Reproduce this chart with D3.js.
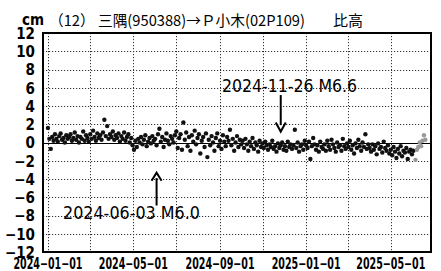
<!DOCTYPE html>
<html>
<head>
<meta charset="utf-8">
<script src="https://cdn.jsdelivr.net/npm/d3@7"></script>
<style>
body { margin: 0; background: #fff; }
svg { display: block; }
</style>
</head>
<body>
<svg width="441" height="271"></svg>
<script>
// 比高データ (cm) — 2日おきに読み取った値
var stepDays = 2;
var start2024 = "2024-01-01";
var values2024 = [
  // 1月
  1.6, 0.4, -0.7, 0.6, 0.2, 0.9, 0.4, 0.1, 0.7, 1.0, 0.3, 0.5, 0.0, 0.8, 0.4, 0.6,
  // 2月
  0.9, 0.2, 0.5, 1.1, 0.3, 0.7, 0.0, 0.6, 0.4, 1.2, 0.2, 0.8, 0.5, 0.1,
  // 3月
  0.9, 0.4, 1.3, 0.6, 0.2, 1.0, 0.5, 0.8, 0.3, 1.1, 2.5, 0.7, 1.8, 0.4, 0.9, 0.6,
  // 4月
  1.2, 0.3, 0.8, 0.5, 1.0, 0.1, 0.7, 0.4, 1.1, 0.2, 0.6, 0.9, 0.0, 0.5, -0.3,
  // 5月
  -0.8, 0.2, -0.5, 0.4, 0.0, 0.6, -0.2, 0.3, 0.8, -0.4, 0.1, 0.5, -0.1, 0.7, 0.2,
  // 6月
  0.4, -0.3, 0.9, 1.5, 0.1, 0.6, -0.5, 0.3, 1.0, 0.2, -0.2, 0.7, 0.4, 0.0, 0.8,
  // 7月
  1.2, -0.6, 0.5, 0.9, -0.8, 2.2, 0.3, 1.1, -0.4, 0.6, -0.9, 0.8, 0.1, 1.3, -0.2, 0.5,
  // 8月
  0.9, -1.2, 0.2, 0.6, -0.5, 1.0, -1.6, 0.3, -0.3, 0.7, 0.0, -0.9, 0.5, 1.0, -0.4, 0.2,
  // 9月
  -0.7, 0.8, 0.1, -0.4, 0.6, 0.2, 1.4, -0.3, 0.4, -0.9, 0.0, 0.7, -0.5, 0.3, -0.2,
  // 10月
  0.2, -0.6, 0.4, -0.2, -0.9, 0.1, -0.4, 0.5, -0.7, 0.0, -0.3, -1.0, 0.2, -0.5, -0.1,
  // 11月
  -0.6, 0.1, -0.3, -0.8, -0.2, -0.5, 0.2, -0.7, -0.4, -1.0, -0.1, -0.6, -0.3, 0.0, -0.8,
  // 12月
  -0.4, -0.9, 0.1, -0.5, -0.2, -0.7, -0.3, 1.4, -0.6, 0.0, -1.0, -0.4, -0.2, -0.8, 0.2
];
var start2025 = "2025-01-01";
var values2025 = [
  // 1月
  -0.3, -0.6, 0.1, -1.8, -0.4, 0.5, -0.2, -0.8, -0.3, -1.0, 0.1, -0.5, -0.7, -0.2, -0.9, 0.2,
  // 2月
  -0.4, -0.8, 0.3, -0.2, -0.6, -1.0, 0.0, -0.5, -0.3, -0.9, 0.4, -0.4, -0.7, -0.1,
  // 3月
  -0.5, 0.2, -0.8, -0.3, -1.2, -0.1, -0.6, 0.3, -0.4, -0.9, 0.0, -0.5, 0.9, -0.7, -0.2,
  // 4月
  -0.6, -1.0, -0.2, -0.8, -0.4, -1.3, -0.1, -0.7, -0.5, -1.1, 0.1, -0.6, -0.9, -0.3, -1.2,
  // 5月
  -0.8, -1.4, -0.5, -1.0, -1.7, -0.7, -1.2, -0.4, -1.5, -0.9, -1.1, -0.6, -1.8, -1.0, -0.8, -1.3,
  // 6月
  -0.9
];
// 速報値 (灰色)
var grayDates = ["2025-06-05", "2025-06-07", "2025-06-09", "2025-06-11", "2025-06-13", "2025-06-15", "2025-06-17", "2025-06-19"];
var grayValues = [-1.9, -0.8, -0.5, 0.0, -0.4, 0.2, 0.8, 0.3];

var yTicks = [12, 10, 8, 6, 4, 2, 0, -2, -4, -6, -8, -10, -12];
var xTickLabels = ["2024-01-01", "2024-05-01", "2024-09-01", "2025-01-01", "2025-05-01"];
var gridDates = ["2024-01-01", "2024-03-01", "2024-05-01", "2024-07-01", "2024-09-01", "2024-11-01",
                 "2025-01-01", "2025-03-01", "2025-05-01"];
var quakeDates = ["2024-06-03", "2024-11-26"];
var quakeLabels = ["2024-06-03 M6.0", "2024-11-26 M6.6"];

var svg = d3.select("svg");
var parse = d3.timeParse("%Y-%m-%d");

var margin = {left: 43, right: 10, top: 33, bottom: 19};
var W = 441, H = 271;

var x = d3.scaleTime()
    .domain([parse("2023-12-25"), parse("2025-06-27")])
    .range([margin.left, W - margin.right]);
var y = d3.scaleLinear()
    .domain([-12, 12])
    .range([H - margin.bottom, margin.top]);

function toPoints(startStr, vals) {
  var s = parse(startStr);
  return vals.map(function(v, i) { return {date: d3.timeDay.offset(s, i * stepDays), value: v}; });
}
var points = toPoints(start2024, values2024).concat(toPoints(start2025, values2025));
var grayPoints = grayDates.map(function(d, i) { return {date: parse(d), value: grayValues[i]}; });

var axisFont = "'Liberation Sans Narrow', 'Arial Narrow', 'DejaVu Sans Condensed', sans-serif";

// グリッド (点線)
var grid = svg.append("g").attr("stroke", "#333").attr("stroke-width", 1).attr("stroke-dasharray", "1.2,1.8");
grid.selectAll("line.h")
    .data(yTicks.filter(function(d) { return d !== 0 && d !== 12 && d !== -12; }))
    .enter().append("line")
    .attr("x1", margin.left).attr("x2", W - margin.right)
    .attr("y1", function(d) { return Math.round(y(d)) + 0.5; })
    .attr("y2", function(d) { return Math.round(y(d)) + 0.5; });
grid.selectAll("line.v")
    .data(gridDates.map(parse))
    .enter().append("line")
    .attr("y1", margin.top).attr("y2", H - margin.bottom)
    .attr("x1", function(d) { return Math.round(x(d)) + 0.5; })
    .attr("x2", function(d) { return Math.round(x(d)) + 0.5; });

// 0 の線
svg.append("line")
    .attr("x1", margin.left).attr("x2", W - margin.right)
    .attr("y1", Math.round(y(0)) + 0.5).attr("y2", Math.round(y(0)) + 0.5)
    .attr("stroke", "#000").attr("stroke-width", 1.2);

// データ点
svg.append("g").selectAll("circle")
    .data(points)
    .enter().append("circle")
    .attr("cx", function(d) { return x(d.date); })
    .attr("cy", function(d) { return y(d.value); })
    .attr("r", 2.2)
    .attr("fill", "#111");
svg.append("g").selectAll("circle")
    .data(grayPoints)
    .enter().append("circle")
    .attr("cx", function(d) { return x(d.date); })
    .attr("cy", function(d) { return y(d.value); })
    .attr("r", 2.2)
    .attr("fill", "#999");

// 枠
svg.append("rect")
    .attr("x", margin.left).attr("y", margin.top)
    .attr("width", W - margin.right - margin.left)
    .attr("height", H - margin.bottom - margin.top)
    .attr("fill", "none").attr("stroke", "#000").attr("stroke-width", 2);

// y軸
var yAxis = svg.append("g")
    .attr("transform", "translate(" + margin.left + ",0)")
    .call(d3.axisLeft(y).tickValues(yTicks).tickSize(0).tickPadding(8));
yAxis.select(".domain").remove();
yAxis.selectAll("text")
    .attr("font-family", axisFont).attr("font-size", 15).attr("font-weight", "bold")
    .attr("fill", "#000").attr("dy", "0.36em");

// x軸ラベル
svg.append("g").selectAll("text")
    .data(xTickLabels)
    .enter().append("text")
    .attr("x", function(d) { return x(parse(d)); })
    .attr("y", 269)
    .attr("text-anchor", "middle")
    .attr("font-family", axisFont).attr("font-size", 15).attr("font-weight", "bold")
    .attr("textLength", 69).attr("lengthAdjust", "spacingAndGlyphs")
    .text(function(d) { return d.replace(/-/g, "\u2212"); });

// タイトル
svg.append("text")
    .attr("x", 22).attr("y", 25)
    .attr("font-family", axisFont).attr("font-size", 15).attr("font-weight", "bold")
    .text("cm");
svg.append("text")
    .attr("x", 49).attr("y", 26)
    .attr("font-family", "'Noto Sans CJK JP', sans-serif").attr("font-size", 15)
    .attr("textLength", 256).attr("lengthAdjust", "spacingAndGlyphs")
    .text("（12） 三隅(950388)→Ｐ小木(02P109)");
svg.append("text")
    .attr("x", 333).attr("y", 26)
    .attr("font-family", "'Noto Sans CJK JP', sans-serif").attr("font-size", 15)
    .text("比高");

// 地震の矢印
var annFont = "'DejaVu Sans Condensed', 'Liberation Sans Narrow', sans-serif";
var qJun = parse(quakeDates[0]), qNov = parse(quakeDates[1]);

// 2024-06-03 : 下から上向き
svg.append("line")
    .attr("x1", x(qJun)).attr("x2", x(qJun))
    .attr("y1", y(-6.9)).attr("y2", y(-3.9))
    .attr("stroke", "#000").attr("stroke-width", 2);
svg.append("path")
    .attr("d", d3.line()([[x(qJun) - 5, y(-4.2)], [x(qJun), y(-3.3)], [x(qJun) + 5, y(-4.2)]]))
    .attr("fill", "none").attr("stroke", "#000").attr("stroke-width", 2);
svg.append("text")
    .attr("x", 63).attr("y", y(-8.4))
    .attr("font-family", annFont).attr("font-size", 17)
    .attr("textLength", 137).attr("lengthAdjust", "spacingAndGlyphs")
    .text(quakeLabels[0]);

// 2024-11-26 : 上から下向き
svg.append("line")
    .attr("x1", x(qNov)).attr("x2", x(qNov))
    .attr("y1", y(5.2)).attr("y2", y(1.9))
    .attr("stroke", "#000").attr("stroke-width", 2);
svg.append("path")
    .attr("d", d3.line()([[x(qNov) - 5, y(2.2)], [x(qNov), y(1.2)], [x(qNov) + 5, y(2.2)]]))
    .attr("fill", "none").attr("stroke", "#000").attr("stroke-width", 2);
svg.append("text")
    .attr("x", 222).attr("y", y(5.5))
    .attr("font-family", annFont).attr("font-size", 17)
    .attr("textLength", 135).attr("lengthAdjust", "spacingAndGlyphs")
    .text(quakeLabels[1]);
</script>
</body>
</html>
